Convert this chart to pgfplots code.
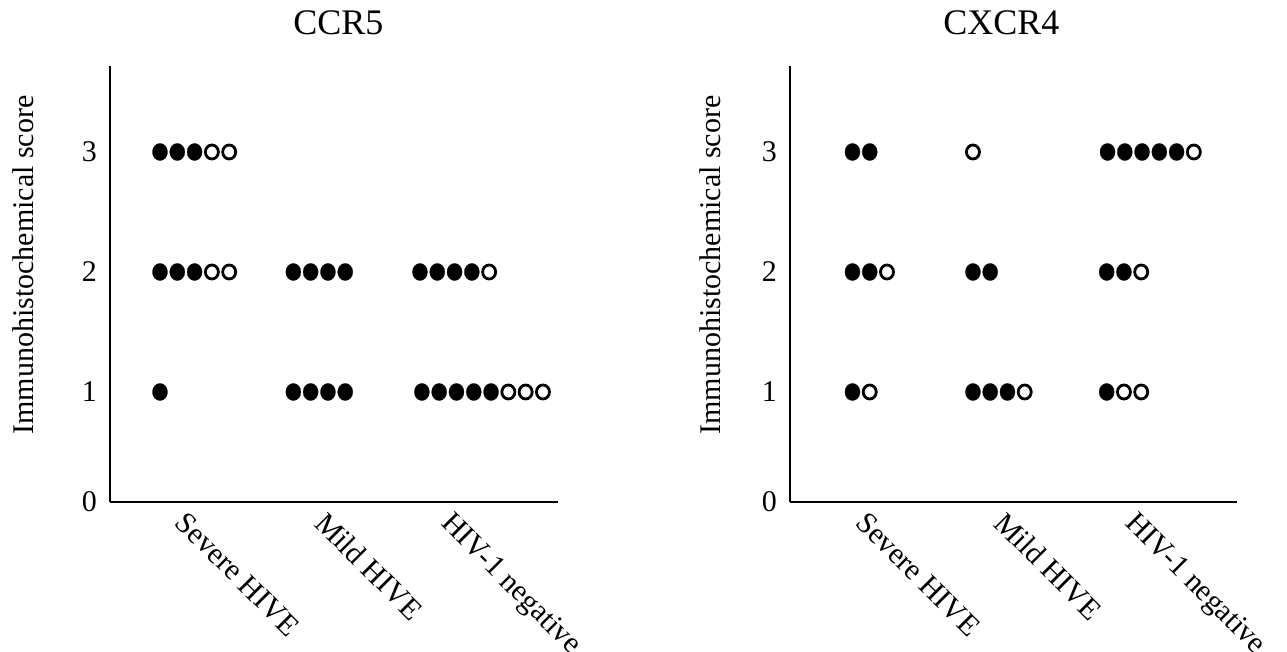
\documentclass[border=0pt]{standalone}
\usepackage{fontspec}
\setmainfont{Liberation Serif}
\usepackage{pgfplots}
\pgfplotsset{compat=1.18}

\pgfplotsset{
  dotaxis/.style={
    scale only axis, height=218pt,
    xmin=0, xmax=25.9, ymin=0.0833, ymax=3.7167,
    axis x line*=bottom, axis y line*=left,
    axis line style={line width=1.2pt, -},
    ytick={0.0833,1,2,3}, yticklabels={0,1,2,3},
    xticklabels={Severe HIVE, Mild HIVE, HIV-1 negative},
    major tick length=0pt,
    tick style={draw=none},
    xticklabel style={rotate=-45, anchor=north west, inner sep=0pt, yshift=-5.5pt, font=\fontsize{15}{18}\selectfont},
    yticklabel style={font=\fontsize{15}{18}\selectfont, xshift=-3pt},
    /pgf/number format/assume math mode=true,
    ylabel={Immunohistochemical score},
    ylabel style={font=\fontsize{15}{18}\selectfont, anchor=center},
    title style={anchor=base, yshift=9.5pt, font=\fontsize{18}{21}\selectfont},
    clip=false,
  },
  filled/.style={only marks, mark=*, mark size=4.3pt, mark options={fill=black, draw=black, line width=0.1pt, xscale=0.88}},
  open/.style={only marks, mark=*, mark size=3.5pt, mark options={fill=white, draw=black, line width=1.4pt, xscale=0.93}},
}

\begin{document}
\begin{tikzpicture}
\useasboundingbox (0,0) rectangle (643.5pt,326pt);

% ---------------- CCR5 ----------------
\begin{axis}[dotaxis, width=224pt, at={(55pt,75pt)}, anchor=south west,
  xtick={4.95,13.05,20.35},
  title={CCR5}, title style={at={(axis description cs:0.51,1)}},
  ylabel style={at={(axis description cs:-0.194,0.5436)}}]
\addplot[filled] coordinates {
  (2.89,3) (3.89,3) (4.89,3)
  (2.89,2) (3.89,2) (4.89,2)
  (2.89,1)
  (10.6,2) (11.6,2) (12.6,2) (13.6,2)
  (10.6,1) (11.6,1) (12.6,1) (13.6,1)
  (17.92,2) (18.92,2) (19.92,2) (20.92,2)
  (18.03,1) (19.03,1) (20.03,1) (21.03,1) (22.03,1)
};
\addplot[open] coordinates {
  (5.89,3) (6.89,3)
  (5.89,2) (6.89,2)
  (21.92,2)
  (23.03,1) (24.03,1) (25.03,1)
};
\end{axis}

% ---------------- CXCR4 ----------------
\begin{axis}[dotaxis, width=223.5pt, at={(395pt,75pt)}, anchor=south west,
  xtick={5.0,13.05,20.65},
  title={CXCR4}, title style={at={(axis description cs:0.473,1)}},
  ylabel style={at={(axis description cs:-0.179,0.5436)}}]
\addplot[filled] coordinates {
  (3.62,3) (4.62,3)
  (3.62,2) (4.62,2)
  (3.62,1)
  (10.6,2) (11.6,2)
  (10.6,1) (11.6,1) (12.6,1)
  (18.4,3) (19.4,3) (20.4,3) (21.4,3) (22.4,3)
  (18.35,2) (19.35,2)
  (18.35,1)
};
\addplot[open] coordinates {
  (5.62,2)
  (4.62,1)
  (10.6,3)
  (13.6,1)
  (23.4,3)
  (20.35,2)
  (19.35,1) (20.35,1)
};
\end{axis}
\end{tikzpicture}
\end{document}
